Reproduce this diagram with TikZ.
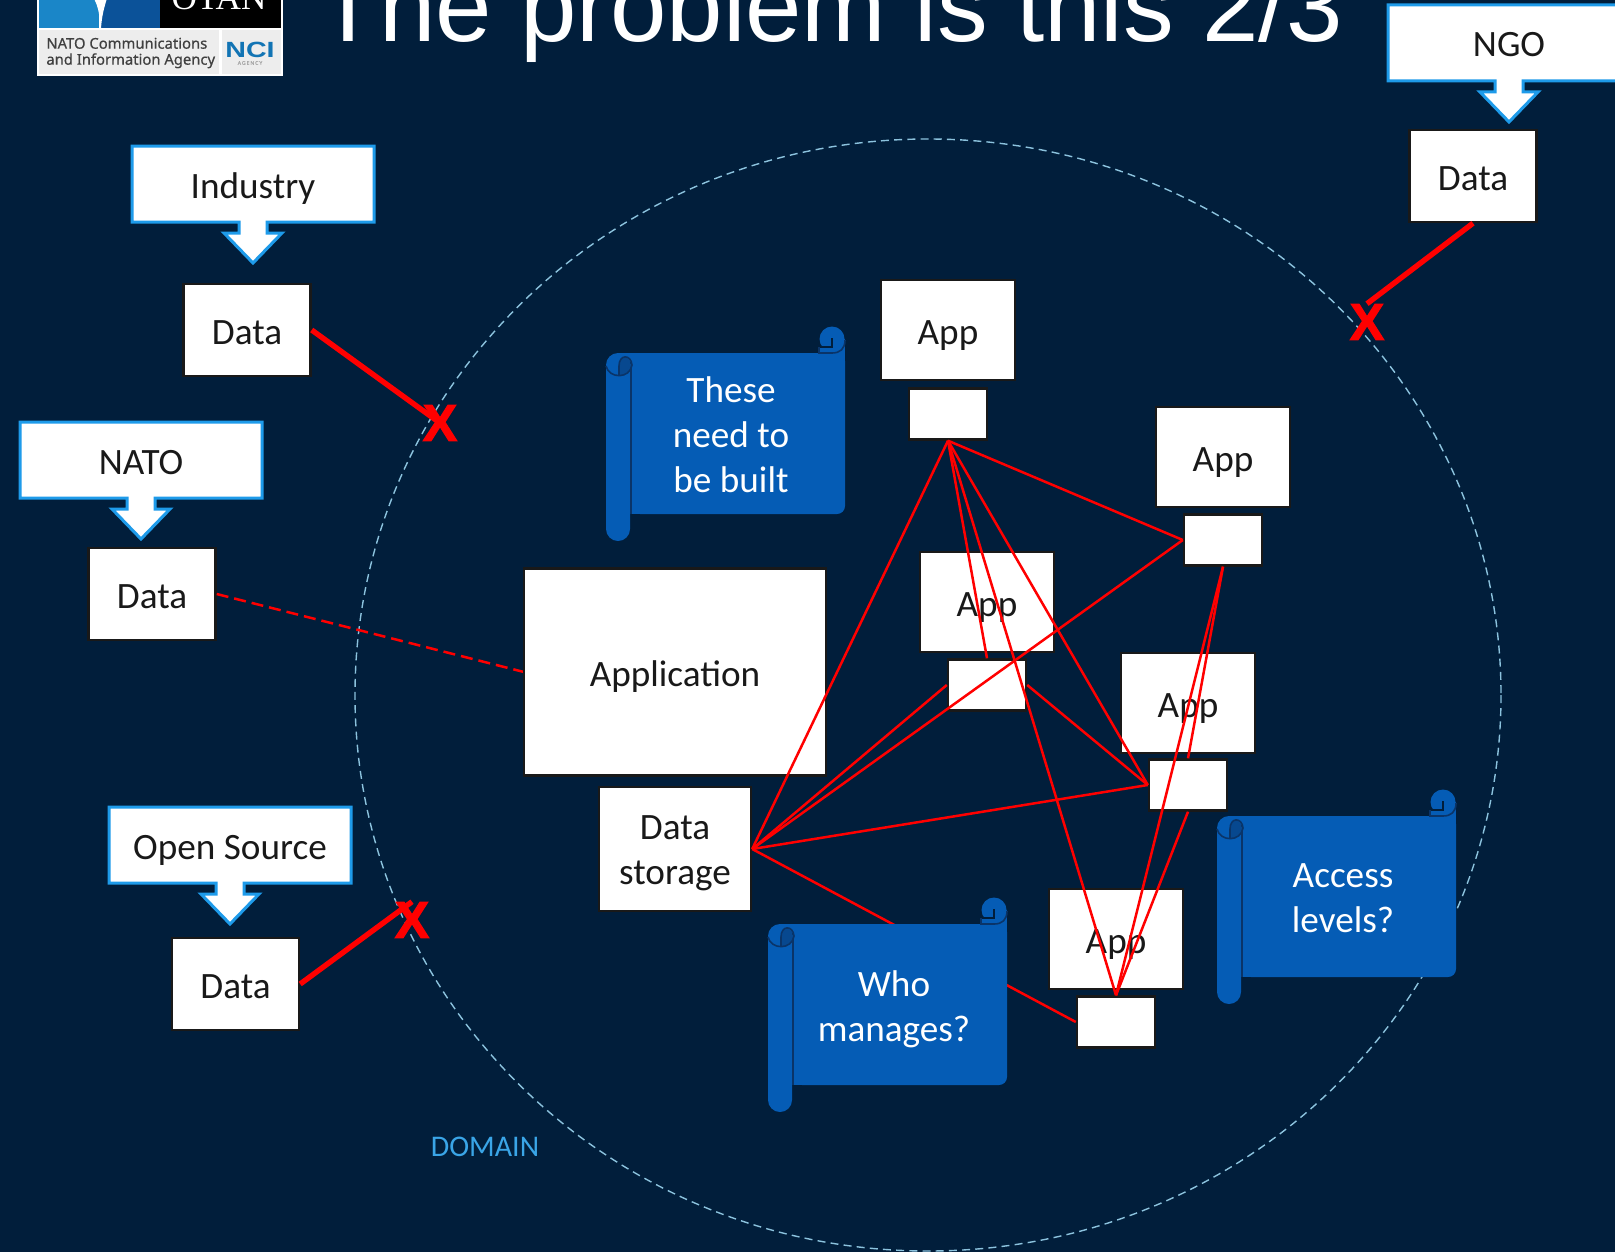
\documentclass[tikz,border=0pt]{standalone}
\usepackage{fontspec}
\setmainfont{Carlito}
\newfontfamily\titlefont{Liberation Sans}
\newfontfamily\otanfont{Liberation Serif}
\newfontfamily\markfont[FakeBold=2]{Liberation Sans}
\newfontfamily\logofont[FakeBold=.6]{Noto Sans}
\definecolor{slidebg}{HTML}{011E3B}
\definecolor{srcblue}{HTML}{1E9BEA}
\definecolor{scrollblue}{HTML}{055CB5}
\definecolor{scrolldark}{HTML}{0A3468}
\definecolor{ringblue}{HTML}{8CC3DE}
\definecolor{logoleft}{HTML}{1A86C8}
\definecolor{logoright}{HTML}{0B5299}
\definecolor{logonci}{HTML}{1274B4}
\tikzset{
  label/.style={font=\fontsize{18.6}{22.4}\selectfont, align=center, text=black!90},
  oneline/.style={text height=14pt, text depth=0pt},
  whitebox/.style={draw=black!90, line width=1.2pt, fill=white, inner sep=0pt, label},
  databox/.style={whitebox, oneline, minimum width=63.5pt, minimum height=46pt},
  appbox/.style={whitebox, oneline, minimum width=67pt, minimum height=50pt},
  portbox/.style={whitebox, minimum width=39pt, minimum height=25.5pt},
  wire/.style={red, line width=1.25pt},
  cutwire/.style={red, line width=2.7pt},
  cutmark/.style={text=red, inner sep=0pt, font=\markfont\bfseries\fontsize{26}{26}\selectfont},
  srcbox/.pic={
    \draw[draw=srcblue, line width=1.5pt, fill=white, miter limit=4]
      (-121,-38)--(121,-38)--(121,38)--(14,38)--(14,49)--(29,49)--(0,79)--(-29,49)--(-14,49)--(-14,38)--(-121,38)--cycle;
    \node[label, oneline] (-text) at (0,0) {#1};
  },
  scrollpage/.pic={
    \fill[scrollblue] (226,13) circle[radius=12.5];
    \fill[scrollblue] (213,21) rectangle (239,30);
    \fill[scrollblue, rounded corners=4pt] (26,27)--(239,27)--(239,188)--(26,188)--cycle;
    \fill[scrollblue] (26,27) rectangle (60,188);
    \fill[scrollblue] (239,13) rectangle (227,60);
    \fill[scrollblue, rounded corners=6pt] (0,27)--(24,27)--(24,215)--(0,215)--cycle;
    \fill[scrollblue] (12,27) rectangle (30,36);
    \draw[scrolldark, line width=1pt] (25,39)--(25,188);
    \fill[scrolldark!50!scrollblue] (13,40) .. controls (13,29) and (25,29) .. (25,40)
      .. controls (25,45) and (20,50) .. (13,50)--cycle;
    \draw[scrolldark, line width=.8pt] (0,40) .. controls (3,53) and (24,53) .. (26,39)
      .. controls (25,28) and (13,28) .. (13,40)--(13,50);
    \draw[scrolldark, line width=.8pt] (239,14) .. controls (239,23) and (234,27) .. (226,27)--(213,27)--(213,21);
    \draw[slidebg, line width=1pt] (214,21)--(226,21)--(226,12);
  }
}
\begin{document}
\begin{tikzpicture}[x=.5pt,y=-.5pt]
\fill[slidebg] (0,0) rectangle (1615,1252);
\clip (0,0) rectangle (1615,1252);
\useasboundingbox (0,0) rectangle (1615,1252);

% logo
\fill[white] (37,-5) rectangle (283,76);
\fill[black] (160,-5) rectangle (281,28);
\fill[black!7] (39,30) rectangle (219,74);
\fill[black!7] (222,30) rectangle (281,74);
\fill[logoleft] (39,-5) rectangle (99,28);
\fill[logoright] (100,-5) rectangle (160,28);
\fill[white] (92,-5) .. controls (100,8) and (100,20) .. (99.5,28) -- (101,28) .. controls (102,15) and (104,8) .. (108,-5) -- cycle;
\node[anchor=base, text=white, inner sep=0pt, font=\otanfont\fontsize{17.6}{18}\selectfont] (otan) at (219,10) {OTAN};
\node[anchor=west, inner sep=0pt, align=left, text=black!75, font=\logofont\fontsize{7.4}{8}\selectfont] (nciname) at (46,53) {NATO Communications\\and Information Agency};
\node[inner sep=0pt, xscale=1.3, text=logonci, font=\titlefont\bfseries\fontsize{11}{11}\selectfont] (ncilogo) at (250,50) {NCI};
\node[inner sep=0pt, text=black!35, font=\logofont\fontsize{2.6}{3}\selectfont] (nciagency) at (250,63) {A\,G\,E\,N\,C\,Y};

\node[anchor=base west, inner sep=0pt, text=white, font=\titlefont\fontsize{50.7}{51}\selectfont] (slidetitle) at (317,41.5) {The problem is this 2/3};

% domain
\draw[ringblue, line width=.7pt, dash pattern=on 4pt off 2.6pt] (928,695) ellipse[x radius=573, y radius=556];
\node[text=srcblue!75!ringblue, inner sep=0pt, font=\fontsize{15}{16}\selectfont] (domain) at (485,1147) {DOMAIN};

% sources
\pic (ind) at (253,184) {srcbox=Industry};
\pic (nato) at (141,460) {srcbox=NATO};
\pic (open) at (230,845) {srcbox=Open Source};
\pic (ngo) at (1509,43) {srcbox=NGO};
\node[databox] (dataind) at (247,330) {Data};
\node[databox] (datanato) at (152,594) {Data};
\node[databox] (dataopen) at (235.5,984) {Data};
\node[databox] (datango) at (1473,176) {Data};

% marks
\node[cutmark] (xind) at (440,423) {X};
\node[cutmark] (xopen) at (412,920) {X};
\node[cutmark] (xngo) at (1367,322) {X};
\draw[cutwire] (dataind.east)--(xind.center);
\draw[cutwire] (dataopen.east)--(xopen.north);
\draw[cutwire] (datango.south)--(xngo.north);
\draw[red, line width=1.25pt, dash pattern=on 6pt off 3pt] (datanato.east)--(524,672);

% applications
\node[whitebox, oneline, minimum width=151pt, minimum height=103.5pt] (appmain) at (675,672) {Application};
\node[whitebox, minimum width=76pt, minimum height=62pt] (storage) at (675,849) {};
\node[label] (storagetext) at (675,853.5) {Data\\storage};
\node[appbox] (appa) at (948,330) {App};
\node[portbox] (porta) at (948,414) {};
\node[appbox] (appb) at (1223,457) {App};
\node[portbox] (portb) at (1223,540) {};
\node[appbox] (appc) at (987,602) {App};
\node[portbox] (portc) at (987,685) {};
\node[appbox] (appd) at (1188,703) {App};
\node[portbox] (portd) at (1188,785) {};
\node[appbox] (appe) at (1116,939) {App};
\node[portbox] (porte) at (1116,1022) {};

% links
\draw[wire] (porta.south)--(storage.east);
\draw[wire] (porta.south)--(portb.west);
\draw[wire] (porta.south)--(portc.north);
\draw[wire] (porta.south)--(portd.west);
\draw[wire] (porta.south)--(porte.north);
\draw[wire] (storage.east)--(portb.west);
\draw[wire] (storage.east)--(portc.west);
\draw[wire] (storage.east)--(portd.west);
\draw[wire] (storage.east)--(porte.west);
\draw[wire] (portc.east)--(portd.west);
\draw[wire] (portb.south)--(portd.north);
\draw[wire] (portb.south)--(porte.north);
\draw[wire] (portd.south)--(porte.north);

% notes
\pic at (606,326) {scrollpage};
\node[label, text=white] (notebuilt) at (731,435) {These\\need to\\be built};
\pic at (1217,789) {scrollpage};
\node[label, text=white] (noteaccess) at (1343,898) {Access\\levels?};
\pic at (768,897) {scrollpage};
\node[label, text=white] (notewho) at (894,1009) {Who\\manages?};
\end{tikzpicture}
\end{document}
